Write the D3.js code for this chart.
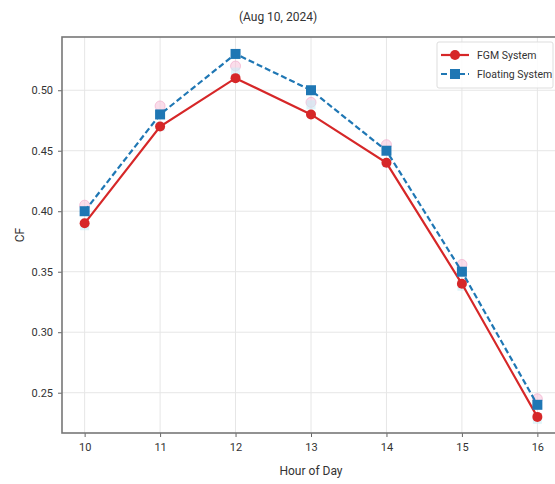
<!DOCTYPE html>
<html>
<head>
<meta charset="utf-8">
<script src="https://cdn.jsdelivr.net/npm/d3@7"></script>
<style>
	body { margin: 0; background: #fff; }
	text { font-family: Roboto, "Liberation Sans", sans-serif; fill: #333; }
</style>
</head>
<body>
<svg id="chart" width="555" height="484"></svg>
<script>
/*=================
=== The data
=================*/
var hours = [10, 11, 12, 13, 14, 15, 16];
var fgmCF = [0.39, 0.47, 0.51, 0.48, 0.44, 0.34, 0.23];
var floatCF = [0.40, 0.48, 0.53, 0.50, 0.45, 0.35, 0.24];
// faint per-hour spread marks
var fgmHi = [0.405, 0.487, 0.52, 0.49, 0.455, 0.356, 0.245];
var floatLo = [0.388, 0.47, 0.515, 0.488, 0.44, 0.338, 0.228];
var yTicks = [0.25, 0.30, 0.35, 0.40, 0.45, 0.50];
var seriesNames = ['FGM System', 'Floating System'];

/*=================
=== The vars
=================*/
var svg = d3.select('#chart');
var pLeft = 62, pRight = 560, pTop = 37, pBottom = 433;

var x = d3.scaleLinear().domain([9.7, 16.3]).range([pLeft, pRight]);
var y = d3.scaleLinear().domain([0.2167, 0.544]).range([pBottom, pTop]);

var red = '#d62728', blue = '#1f77b4';

// grid
svg.append('g').selectAll('line')
	.data(hours).enter().append('line')
	.attr('x1', function (d) { return x(d); }).attr('x2', function (d) { return x(d); })
	.attr('y1', pTop).attr('y2', pBottom)
	.attr('stroke', '#e6e6e6').attr('stroke-width', 1);

svg.append('g').selectAll('line')
	.data(yTicks).enter().append('line')
	.attr('x1', pLeft).attr('x2', pRight)
	.attr('y1', function (d) { return y(d); }).attr('y2', function (d) { return y(d); })
	.attr('stroke', '#e6e6e6').attr('stroke-width', 1);

// axes
var xAxis = d3.axisBottom(x).tickValues(hours).tickFormat(d3.format('d')).tickSize(4).tickPadding(6);
var yAxis = d3.axisLeft(y).tickValues(yTicks).tickFormat(d3.format('.2f')).tickSize(4).tickPadding(5);

var gx = svg.append('g').attr('transform', 'translate(0,' + pBottom + ')').call(xAxis);
var gy = svg.append('g').attr('transform', 'translate(' + pLeft + ',0)').call(yAxis);
[gx, gy].forEach(function (g) {
	g.select('.domain').remove();
	g.selectAll('line').attr('stroke', '#666');
	g.selectAll('text').attr('font-size', 11).attr('fill', '#444')
		.attr('font-family', 'Roboto, sans-serif');
});

// frame
svg.append('rect')
	.attr('x', pLeft).attr('y', pTop)
	.attr('width', pRight - pLeft).attr('height', pBottom - pTop)
	.attr('fill', 'none').attr('stroke', '#777').attr('stroke-width', 1.6);

// faint spread markers
svg.append('g').selectAll('circle')
	.data(hours).enter().append('circle')
	.attr('cx', function (d) { return x(d); })
	.attr('cy', function (d, i) { return y(fgmHi[i]); })
	.attr('r', 5).attr('fill', '#f7c6dc').attr('fill-opacity', 0.6)
	.attr('stroke', '#f2a6c8').attr('stroke-opacity', 0.6);

svg.append('g').selectAll('rect')
	.data(hours).enter().append('rect')
	.attr('x', function (d) { return x(d) - 4.5; })
	.attr('y', function (d, i) { return y(floatLo[i]) - 4.5; })
	.attr('width', 9).attr('height', 9)
	.attr('fill', '#c9ecf5').attr('fill-opacity', 0.6);

// lines
var lineFor = function (vals) {
	return d3.line()
		.x(function (d) { return x(d); })
		.y(function (d, i) { return y(vals[i]); })(hours);
};

svg.append('path').attr('d', lineFor(fgmCF))
	.attr('fill', 'none').attr('stroke', red).attr('stroke-width', 2.2);

svg.append('path').attr('d', lineFor(floatCF))
	.attr('fill', 'none').attr('stroke', blue).attr('stroke-width', 2.2)
	.attr('stroke-dasharray', '6,3');

// markers
svg.append('g').selectAll('circle')
	.data(hours).enter().append('circle')
	.attr('cx', function (d) { return x(d); })
	.attr('cy', function (d, i) { return y(fgmCF[i]); })
	.attr('r', 5).attr('fill', red);

svg.append('g').selectAll('rect')
	.data(hours).enter().append('rect')
	.attr('x', function (d) { return x(d) - 5; })
	.attr('y', function (d, i) { return y(floatCF[i]) - 5; })
	.attr('width', 10).attr('height', 10).attr('fill', blue);

// legend
var lg = svg.append('g').attr('transform', 'translate(437,42)');
lg.append('rect').attr('width', 116).attr('height', 46)
	.attr('fill', '#fff').attr('fill-opacity', 0.85)
	.attr('stroke', '#ddd').attr('rx', 2);
[red, blue].forEach(function (c, i) {
	var yy = 13 + i * 19;
	lg.append('line').attr('x1', 4).attr('x2', 32).attr('y1', yy).attr('y2', yy)
		.attr('stroke', c).attr('stroke-width', 2.2)
		.attr('stroke-dasharray', i ? '6,3' : null);
	if (i === 0) {
		lg.append('circle').attr('cx', 18).attr('cy', yy).attr('r', 5).attr('fill', c);
	} else {
		lg.append('rect').attr('x', 13).attr('y', yy - 5).attr('width', 10).attr('height', 10).attr('fill', c);
	}
	lg.append('text').attr('x', 40).attr('y', yy + 4)
		.attr('font-size', 10.5).text(seriesNames[i]);
});

// titles
svg.append('text').attr('x', 278).attr('y', 21)
	.attr('text-anchor', 'middle').attr('font-size', 12).text('(Aug 10, 2024)');

svg.append('text').attr('x', 311).attr('y', 475)
	.attr('text-anchor', 'middle').attr('font-size', 12).text('Hour of Day');

svg.append('text').attr('transform', 'translate(24,' + ((pTop + pBottom) / 2) + ') rotate(-90)')
	.attr('text-anchor', 'middle').attr('font-size', 12).text('CF');
</script>
</body>
</html>
